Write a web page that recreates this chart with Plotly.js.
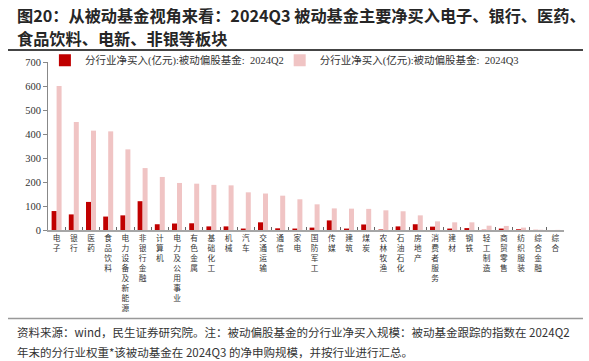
<!DOCTYPE html>
<html>
<head>
<meta charset="utf-8">
<script src="https://cdn.plot.ly/plotly-3.0.1.min.js"></script>
<style>html,body{margin:0;padding:0;background:#fff;}#chart{width:589px;height:361px;}</style>
</head>
<body>
<div id="chart"></div>
<script>
const categories = ['电子','银行','医药','食品饮料','电力设备及新能源','非银行金融','计算机','电力及公用事业','有色金属','基础化工','机械','汽车','交通运输','通信','家电','国防军工','传媒','建筑','煤炭','农林牧渔','石油石化','房地产','消费者服务','建材','钢铁','轻工制造','商贸零售','纺织服装','综合金融','综合'];
const q2Values = [79,65,117,56,61,120,24,27,28,15,15,6,32,7,6,10,40,6,23,2,15,24,14,6,8,1,6,3,0.5,0];
const q3Values = [600,450,414,411,336,258,221,196,193,188,186,157,152,143,128,107,90,89,88,82,78,61,36,32,32,18,17,10,1,0.5];
const seriesNames = ['分行业净买入(亿元):被动偏股基金:  2024Q2','分行业净买入(亿元):被动偏股基金:  2024Q3'];
const yTicks = [0,100,200,300,400,500,600,700];
const titleLines = ['图20：从被动基金视角来看：2024Q3 被动基金主要净买入电子、银行、医药、','食品饮料、电新、非银等板块'];
const noteLines = ['资料来源：wind，民生证券研究院。注：被动偏股基金的分行业净买入规模：被动基金跟踪的指数在 2024Q2','年末的分行业权重*该被动基金在 2024Q3 的净申购规模，并按行业进行汇总。'];

const serif = '"Liberation Serif", "Noto Sans CJK SC", serif';
const sans = '"Noto Sans CJK SC", "Noto Sans", sans-serif';

const traces = [
  {type:'bar', x:categories, y:q2Values, name:seriesNames[0], marker:{color:'#C00000'}, legend:'legend'},
  {type:'bar', x:categories, y:q3Values, name:seriesNames[1], marker:{color:'#F0C4C4'}, legend:'legend2'}
];

const layout = {
  width:589, height:361,
  margin:{l:48, r:25, t:62, b:131},
  paper_bgcolor:'#fff', plot_bgcolor:'#fff',
  barmode:'group', bargap:0.42, bargroupgap:0,
  showlegend:true,
  legend:{x:-0.006, y:1.01, xanchor:'left', yanchor:'middle', orientation:'h', bgcolor:'rgba(0,0,0,0)', font:{family:serif, size:10.5, color:'#333'}},
  legend2:{x:0.449, y:1.01, xanchor:'left', yanchor:'middle', orientation:'h', bgcolor:'rgba(0,0,0,0)', font:{family:serif, size:10.5, color:'#333'}},
  xaxis:{
    type:'category', tickmode:'array', tickvals:categories,
    ticktext:categories.map(c => c.split('').join('<br>')),
    tickangle:0, tickfont:{family:sans, size:7.7, color:'#333'},
    showline:true, linecolor:'#A6A6A6', linewidth:2,
    ticks:'inside', ticklen:3, tickcolor:'#666', tickson:'boundaries',
    showgrid:false, zeroline:false, fixedrange:true
  },
  yaxis:{
    range:[0,700], tickmode:'array', tickvals:yTicks,
    tickfont:{family:serif, size:10.5, color:'#333'},
    showline:true, linecolor:'#888', linewidth:1,
    ticks:'outside', ticklen:4, tickcolor:'#888',
    showgrid:false, zeroline:false, fixedrange:true
  },
  annotations:[
    {text:'<b>'+titleLines[0]+'</b>', xref:'paper', yref:'paper', x:-0.064, y:1.280, xanchor:'left', yanchor:'middle', showarrow:false, font:{family:sans, size:16.2, color:'#262626'}},
    {text:'<b>'+titleLines[1]+'</b>', xref:'paper', yref:'paper', x:-0.064, y:1.143, xanchor:'left', yanchor:'middle', showarrow:false, font:{family:sans, size:16.2, color:'#262626'}},
    {text:noteLines[0], xref:'paper', yref:'paper', x:-0.064, y:-0.610, xanchor:'left', yanchor:'middle', showarrow:false, font:{family:sans, size:11.5, color:'#333'}},
    {text:noteLines[1], xref:'paper', yref:'paper', x:-0.064, y:-0.729, xanchor:'left', yanchor:'middle', showarrow:false, font:{family:sans, size:11.5, color:'#333'}}
  ],
  shapes:[
    {type:'line', xref:'paper', yref:'paper', x0:-0.0775, x1:1.0368, y0:1.0716, y1:1.0716, line:{color:'#444', width:2}},
    {type:'line', xref:'paper', yref:'paper', x0:-0.0775, x1:1.0368, y0:-0.5265, y1:-0.5265, line:{color:'#999', width:1.5}}
  ]
};

Plotly.newPlot('chart', traces, layout, {displayModeBar:false, staticPlot:true});
</script>
</body>
</html>
